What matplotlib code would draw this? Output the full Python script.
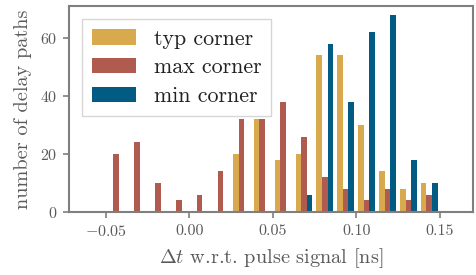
import numpy as np
import matplotlib
matplotlib.use("Agg")
import matplotlib.pyplot as plt

# ---- data ----
bin_start = -0.05
bin_stop = 0.15
n_bins = 16
series_labels = ["typ corner", "max corner", "min corner"]
typ_counts = [0, 0, 0, 0, 0, 0, 20, 32, 18, 20, 54, 54, 30, 14, 8, 10]
max_counts = [20, 24, 10, 4, 6, 14, 32, 32, 38, 26, 12, 8, 4, 8, 4, 6]
min_counts = [0, 0, 0, 0, 0, 0, 0, 0, 0, 6, 58, 38, 62, 68, 18, 10]
xticks = [-0.05, 0.00, 0.05, 0.10, 0.15]
yticks = [0, 20, 40, 60]

colors = ["#D9A94E", "#B05B50", "#015B82"]
grey = "#7f7f7f"
txt = "#5a5a5a"

plt.rcParams["font.family"] = ["cmr10", "DejaVu Serif"]
plt.rcParams["mathtext.fontset"] = "cm"
plt.rcParams["axes.formatter.use_mathtext"] = True
plt.rcParams["axes.unicode_minus"] = True

fig = plt.figure(figsize=(4.77, 2.75), dpi=100)
ax = fig.add_axes([0.1447, 0.229, 0.9916 - 0.1447, 0.978 - 0.229])

edges = np.linspace(bin_start, bin_stop, n_bins + 1)
centers = (edges[:-1] + edges[1:]) / 2
ax.hist([centers, centers, centers], bins=edges,
        weights=[typ_counts, max_counts, min_counts],
        color=colors, label=series_labels)

ax.set_xlim(-0.072, 0.170)
ax.set_ylim(0, 71.0)
ax.set_xticks(xticks)
ax.set_yticks(yticks)
ax.xaxis.set_major_formatter(matplotlib.ticker.FuncFormatter(
    lambda v, p: ("$-$" if v < 0 else "") + f"{abs(v):.2f}"))

for s in ax.spines.values():
    s.set_color(grey)
    s.set_linewidth(1.5)
ax.tick_params(axis="both", colors=grey, labelcolor=txt, labelsize=11.5,
               length=4.5, width=1.2, pad=4)

ax.set_xlabel(r"$\Delta t$ w.r.t. pulse signal [ns]", fontsize=14.6, color=txt, labelpad=5)
ax.set_ylabel("number of delay paths", fontsize=14.6, color=txt, labelpad=6)

leg = ax.legend(loc="upper left", fontsize=15.8, frameon=True, fancybox=False,
                borderaxespad=0.6, handlelength=2.0, handleheight=0.7,
                labelspacing=0.42, borderpad=0.45)
leg.get_frame().set_edgecolor("#cccccc")
leg.get_frame().set_linewidth(1.0)
for t in leg.get_texts():
    t.set_color("#222222")

fig.savefig("out.png", dpi=100)
